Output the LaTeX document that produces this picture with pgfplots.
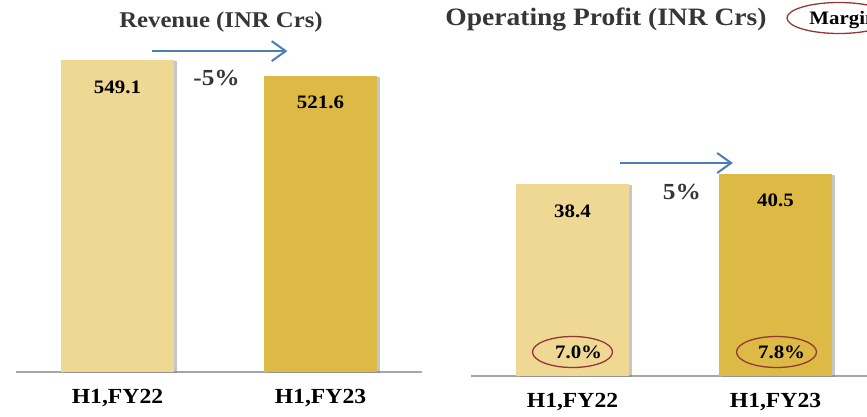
\documentclass[border=0pt]{standalone}
\usepackage{pgfplots}
\pgfplotsset{compat=1.18}
\usepackage{fontspec}
\setmainfont{Liberation Serif}[FakeStretch=1.1]
\usetikzlibrary{shadows,arrows.meta,shapes.geometric}
\definecolor{barlight}{HTML}{EFD894}
\definecolor{bardark}{HTML}{DDB945}
\definecolor{arrowblue}{HTML}{4A7EBB}
\definecolor{marginred}{HTML}{953735}
\definecolor{titlegray}{HTML}{363636}
\definecolor{basegray}{HTML}{A6A6A6}
\newcommand{\valfont}{\fontsize{19}{22}\selectfont\bfseries}
\tikzset{growth/.style={arrowblue, line width=2pt,
    -{Straight Barb[length=14pt,width=20pt]}}}
\pgfplotsset{
  halfchart/.style={
    scale only axis, width=406pt, anchor=south west,
    ybar, bar width=113pt, ymin=0,
    xmin=-0.5, xmax=1.5, xtick={0,1},
    xticklabels={{H1,FY22},{H1,FY23}},
    axis x line=bottom, axis y line=none,
    axis line style={-, draw=basegray, line width=1.4pt},
    major tick length=0pt,
    xticklabel style={font=\fontsize{21.5}{24}\selectfont\bfseries, yshift=-14pt},
    clip=false,
  },
  barval/.style={
    draw=none, bar shift=0pt,
    drop shadow={shadow xshift=3pt, shadow yshift=-1pt, opacity=0.45},
    nodes near coords={\valfont\pgfmathprintnumber[fixed,fixed zerofill,precision=1]{\pgfplotspointmeta}},
    nodes near coords style={anchor=center, yshift=-27pt, text=black,
      /pgf/number format/assume math mode=true},
  },
}
\begin{document}
\begin{tikzpicture}
\path[use as bounding box, clip] (0,0) rectangle (867pt,-416pt);

% Revenue
\begin{axis}[halfchart, at={(16pt,-372pt)}, height=340.8pt, ymax=600]
\addplot[barval, fill=barlight] coordinates {(0,549.1)};
\addplot[barval, fill=bardark] coordinates {(1,521.6)};
\draw[growth] (axis cs:0.172,565) -- (axis cs:0.837,565);
\node[font=\fontsize{23}{25}\selectfont\bfseries, text=titlegray]
  at (axis cs:0.488,518) {-5\%};
\end{axis}
\node[font=\fontsize{22.5}{25}\selectfont\bfseries, text=titlegray]
  at (221pt,-22pt) {Revenue (INR Crs)};

% Operating profit
\begin{axis}[halfchart, at={(471pt,-376pt)}, height=300pt, ymax=60]
\addplot[barval, fill=barlight] coordinates {(0,38.4)};
\addplot[barval, fill=bardark] coordinates {(1,40.5)};
\draw[growth] (axis cs:0.234,42.6) -- (axis cs:0.79,42.6);
\node[font=\fontsize{23}{25}\selectfont\bfseries, text=titlegray]
  at (axis cs:0.539,36.8) {5\%};
\node[ellipse, draw=marginred, line width=1.3pt,
  minimum width=80pt, minimum height=31pt] at (axis cs:0,4.8) {};
\node[font=\valfont] at (axis cs:0.03,4.8) {7.0\%};
\node[ellipse, draw=marginred, line width=1.3pt,
  minimum width=80pt, minimum height=31pt] at (axis cs:1.005,4.8) {};
\node[font=\valfont] at (axis cs:1.03,4.8) {7.8\%};
\end{axis}
\node[font=\fontsize{25}{28}\selectfont\bfseries, text=titlegray]
  at (606pt,-19pt) {Operating Profit (INR Crs)};
\node[ellipse, draw=marginred, line width=1.3pt,
  minimum width=104pt, minimum height=31pt] at (839pt,-18pt) {};
\node[font=\valfont] at (843pt,-20pt) {Margin};
\end{tikzpicture}
\end{document}
